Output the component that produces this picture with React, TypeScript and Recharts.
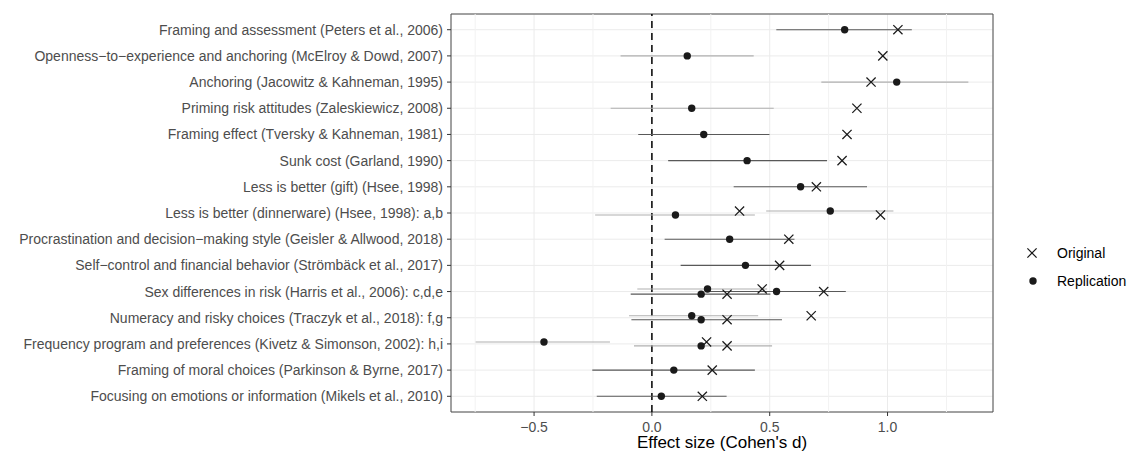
import React from 'react';
import {
  ScatterChart,
  Scatter,
  XAxis,
  YAxis,
  CartesianGrid,
  ReferenceLine,
  ReferenceArea,
  ErrorBar,
} from 'recharts';

const studyLabels = [
  'Framing and assessment (Peters et al., 2006)',
  'Openness−to−experience and anchoring (McElroy & Dowd, 2007)',
  'Anchoring (Jacowitz & Kahneman, 1995)',
  'Priming risk attitudes (Zaleskiewicz, 2008)',
  'Framing effect (Tversky & Kahneman, 1981)',
  'Sunk cost (Garland, 1990)',
  'Less is better (gift) (Hsee, 1998)',
  'Less is better (dinnerware) (Hsee, 1998): a,b',
  'Procrastination and decision−making style (Geisler & Allwood, 2018)',
  'Self−control and financial behavior (Strömbäck et al., 2017)',
  'Sex differences in risk (Harris et al., 2006): c,d,e',
  'Numeracy and risky choices (Traczyk et al., 2018): f,g',
  'Frequency program and preferences (Kivetz & Simonson, 2002): h,i',
  'Framing of moral choices (Parkinson & Byrne, 2017)',
  'Focusing on emotions or information (Mikels et al., 2010)',
];

// one entry per effect, sub-effects of a study listed top to bottom
const effectStudy = [0, 1, 2, 3, 4, 5, 6, 7, 7, 8, 9, 10, 10, 10, 11, 11, 12, 12, 13, 14];
const originalD = [1.044, 0.98, 0.93, 0.87, 0.828, 0.807, 0.698, 0.372, 0.97, 0.581, 0.542, 0.468, 0.729, 0.319, 0.676, 0.319, 0.232, 0.319, 0.256, 0.214];
const replicationD = [0.818, 0.15, 1.039, 0.169, 0.22, 0.404, 0.631, 0.757, 0.1, 0.33, 0.397, 0.236, 0.529, 0.209, 0.169, 0.209, -0.458, 0.209, 0.093, 0.04];
const ciLower = [0.528, -0.133, 0.719, -0.175, -0.058, 0.069, 0.347, 0.485, -0.241, 0.054, 0.122, -0.062, 0.235, -0.09, -0.097, -0.087, -0.748, -0.076, -0.253, -0.234];
const ciUpper = [1.103, 0.432, 1.343, 0.517, 0.499, 0.743, 0.913, 1.025, 0.437, 0.605, 0.675, 0.489, 0.823, 0.503, 0.451, 0.552, -0.178, 0.51, 0.437, 0.317];
const ciFaint = [false, true, true, true, false, false, false, true, true, false, false, true, false, false, true, false, true, true, false, false];

const xTicks = [-0.5, 0, 0.5, 1];
const xMinorTicks = [-0.75, -0.25, 0.25, 0.75, 1.25];
const seriesNames = ['Original', 'Replication'];

const FONT = '"Liberation Sans", Arial, Helvetica, sans-serif';
const INK = '#1a1a1a';
const DODGE = 0.3;

// ggplot-like dodge inside a row
const yPos = effectStudy.map((s, i) => {
  const group = effectStudy.map((v, j) => (v === s ? j : -1)).filter((j) => j >= 0);
  const n = group.length;
  const k = group.indexOf(i);
  return s + 1 + (k - (n - 1) / 2) * (DODGE / n);
});

// 5% expansion like ggplot
const dataMin = Math.min(...ciLower, ...originalD);
const dataMax = Math.max(...ciUpper, ...originalD);
const pad = (dataMax - dataMin) * 0.05;
const xDomain: [number, number] = [dataMin - pad, dataMax + pad];
const yDomain: [number, number] = [0.4, studyLabels.length + 0.6];
const yTicks = studyLabels.map((_, i) => i + 1);

const originalPts = effectStudy.map((_, i) => ({ x: originalD[i], y: yPos[i] }));
const replicationPts = effectStudy.map((_, i) => ({
  x: replicationD[i],
  y: yPos[i],
  err: [replicationD[i] - ciLower[i], ciUpper[i] - replicationD[i]],
  faint: ciFaint[i],
}));
const replicationFaint = replicationPts.filter((p) => p.faint);
const replicationSolid = replicationPts.filter((p) => !p.faint);

const fmtTick = (v: number) => v.toFixed(1).replace('-', '−');

const Cross = (props: any) => {
  const { cx, cy } = props;
  const r = 4.6;
  return (
    <path
      d={`M${cx - r},${cy - r}L${cx + r},${cy + r}M${cx - r},${cy + r}L${cx + r},${cy - r}`}
      stroke={INK}
      strokeWidth={1.25}
      fill="none"
    />
  );
};

const Dot = (props: any) => <circle cx={props.cx} cy={props.cy} r={3.7} fill={INK} />;

const LegendBox = () => (
  <div style={{ position: 'absolute', left: 1022, top: 239, fontFamily: FONT, fontSize: 14, color: '#000' }}>
    {seriesNames.map((name, i) => (
      <div key={name} style={{ display: 'flex', alignItems: 'center', height: 28 }}>
        <svg width={20} height={20} style={{ marginRight: 15 }}>
          {i === 0 ? <Cross cx={10} cy={10} /> : <Dot cx={11} cy={10} />}
        </svg>
        <span>{name}</span>
      </div>
    ))}
  </div>
);

export default function App() {
  return (
    <div style={{ position: 'absolute', left: 0, top: 0, width: 1129, height: 453, background: '#fff' }}>
      <ScatterChart
        width={1129}
        height={453}
        margin={{ top: 14, right: 136, bottom: 0, left: 0 }}
        style={{ fontFamily: FONT }}
      >
        <CartesianGrid stroke="#ebebeb" strokeWidth={1} />
        {xMinorTicks.map((v) => (
          <ReferenceLine key={v} x={v} stroke="#f2f2f2" strokeWidth={1} />
        ))}
        <XAxis
          type="number"
          dataKey="x"
          domain={xDomain}
          allowDataOverflow
          ticks={xTicks}
          interval={0}
          tickFormatter={fmtTick}
          axisLine={false}
          tickLine={{ stroke: '#333' }}
          tickSize={4}
          tickMargin={6}
          height={41}
          tick={{ fill: '#4d4d4d', fontSize: 14 }}
          label={{ value: "Effect size (Cohen's d)", position: 'insideBottom', offset: 5, fill: '#000', fontSize: 17 }}
        />
        <YAxis
          type="number"
          dataKey="y"
          domain={yDomain}
          allowDataOverflow
          reversed
          ticks={yTicks}
          interval={0}
          tickFormatter={(v: number) => studyLabels[Math.round(v) - 1]}
          axisLine={false}
          tickLine={{ stroke: '#333' }}
          tickSize={4}
          tickMargin={4}
          width={451}
          tick={{ fill: '#4d4d4d', fontSize: 14 }}
        />
        <ReferenceLine x={0} stroke="#000" strokeWidth={1.5} strokeDasharray="7 5" />
        <Scatter name="Replication" data={replicationFaint} shape={Dot} isAnimationActive={false}>
          <ErrorBar dataKey="err" direction="x" width={0} stroke="#b0b0b0" strokeWidth={1.1} />
        </Scatter>
        <Scatter name="Replication" data={replicationSolid} shape={Dot} isAnimationActive={false}>
          <ErrorBar dataKey="err" direction="x" width={0} stroke="#595959" strokeWidth={1.1} />
        </Scatter>
        <Scatter name="Original" data={originalPts} shape={Cross} isAnimationActive={false} />
        <ReferenceArea
          x1={xDomain[0]}
          x2={xDomain[1]}
          y1={yDomain[0]}
          y2={yDomain[1]}
          fill="none"
          stroke="#4d4d4d"
          strokeWidth={1}
          ifOverflow="visible"
        />
      </ScatterChart>
      <LegendBox />
    </div>
  );
}
